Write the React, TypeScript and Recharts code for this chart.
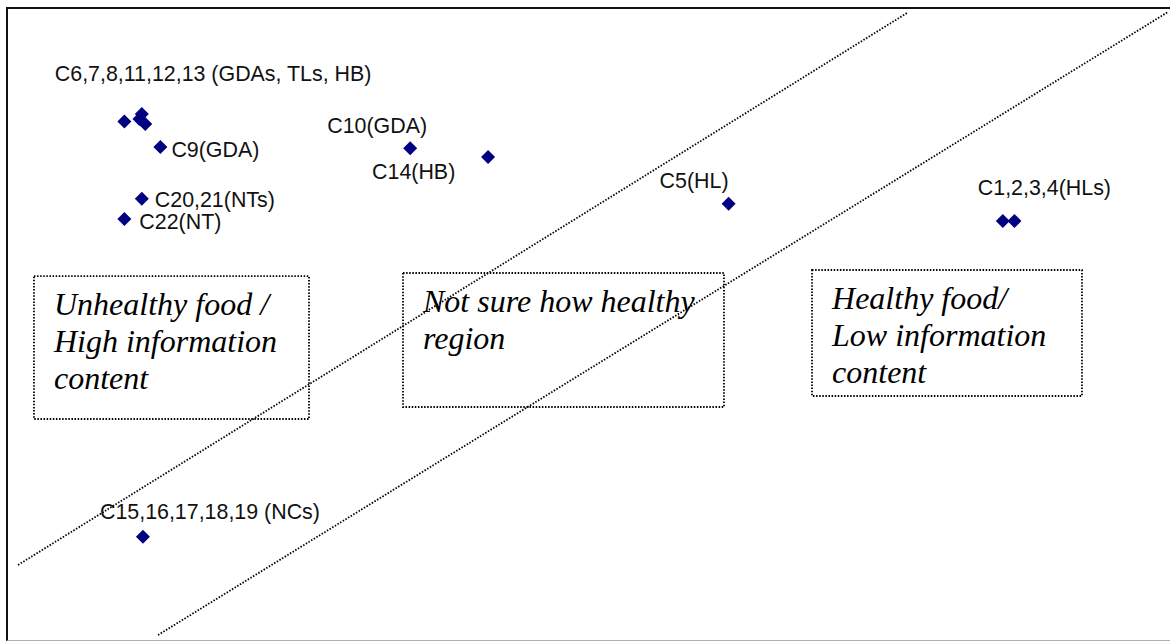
import {
  ScatterChart,
  Scatter,
  XAxis,
  YAxis,
  ReferenceLine,
  ReferenceArea,
} from 'recharts';

// point positions, x = information / health axis, y = the other; 0..100 across the frame
const pointX = [10.1, 11.6, 11.4, 11.9, 13.2, 11.6, 10.1, 34.7, 41.4, 62.1, 85.7, 86.7, 11.7];
const pointY = [81.9, 83.1, 82.3, 81.5, 77.9, 69.7, 66.5, 77.7, 76.3, 68.9, 66.2, 66.2, 16.3];
const pointLabels = [
  '',
  'C6,7,8,11,12,13 (GDAs, TLs, HB)',
  '',
  '',
  'C9(GDA)',
  'C20,21(NTs)',
  'C22(NT)',
  'C10(GDA)',
  'C14(HB)',
  'C5(HL)',
  'C1,2,3,4(HLs)',
  '',
  'C15,16,17,18,19 (NCs)',
];

// dividing lines between the regions
const upperBoundary = [
  { x: 0.95, y: 11.85 },
  { x: 77.45, y: 99.05 },
];
const lowerBoundary = [
  { x: 13.0, y: 0.79 },
  { x: 99.91, y: 99.21 },
];

// region boxes
const regionText = [
  ['Unhealthy food /', 'High information', 'content'],
  ['Not sure how healthy', 'region'],
  ['Healthy food/', 'Low information', 'content'],
];
const regionX = [
  [2.32, 25.99],
  [34.08, 61.7],
  [69.28, 92.51],
];
const regionY = [
  [34.91, 57.5],
  [36.81, 57.98],
  [38.55, 58.45],
];

// where each label sits relative to its marker (px)
const LABEL_OFFSET: Record<string, [number, number]> = {
  'C6,7,8,11,12,13 (GDAs, TLs, HB)': [-87, -33],
  'C9(GDA)': [11, 10],
  'C20,21(NTs)': [13, 8],
  'C22(NT)': [15, 10],
  'C10(GDA)': [-83, -15],
  'C14(HB)': [-116, 22],
  'C5(HL)': [-69, -16],
  'C1,2,3,4(HLs)': [-25, -26],
  'C15,16,17,18,19 (NCs)': [-43, -18],
};

const points = pointX.map((x, i) => ({ x, y: pointY[i], label: pointLabels[i] }));

const NAVY = '#000080';
const DOTS = '1.5 1.6';

function Diamond(props: any) {
  const { cx, cy, payload } = props;
  const r = 7;
  const off = LABEL_OFFSET[payload.label];
  return (
    <g>
      <polygon
        points={`${cx},${cy - r} ${cx + r},${cy} ${cx},${cy + r} ${cx - r},${cy}`}
        fill={NAVY}
      />
      {off && (
        <text
          x={cx + off[0]}
          y={cy + off[1]}
          fontFamily="'Liberation Sans', Arial, sans-serif"
          fontSize={21.4}
          fill="#111"
        >
          {payload.label}
        </text>
      )}
    </g>
  );
}

const boxText = (lines: string[]) => (props: any) => {
  const { x, y } = props.viewBox;
  return (
    <text
      fontFamily="'Liberation Serif', 'Times New Roman', serif"
      fontStyle="italic"
      fontSize={32}
      fill="#000"
    >
      {lines.map((line, i) => (
        <tspan key={i} x={x + 20} y={y + 39 + i * 37}>
          {line}
        </tspan>
      ))}
    </text>
  );
};

export default function App() {
  return (
    <>
      <style>{'body { margin: 0; }'}</style>
      <div style={{ position: 'relative', width: 1170, height: 642 }}>
        {/* outer frame: dark left/top edges, light bottom edge */}
        <div
          style={{
            position: 'absolute',
            boxSizing: 'border-box',
            left: 6,
            top: 7,
            width: 1164,
            height: 634,
            borderLeft: '2px solid #111',
            borderTop: '2px solid #111',
            borderBottom: '1px solid #b0b0b0',
            pointerEvents: 'none',
            zIndex: 2,
          }}
        />
        <ScatterChart width={1170} height={642} margin={{ top: 7, right: 1, bottom: 2, left: 7 }}>
          <XAxis type="number" dataKey="x" domain={[0, 100]} hide />
          <YAxis type="number" dataKey="y" domain={[0, 100]} hide />
          <ReferenceLine segment={upperBoundary} stroke="#000" strokeWidth={1.8} strokeDasharray={DOTS} />
          <ReferenceLine segment={lowerBoundary} stroke="#000" strokeWidth={1.8} strokeDasharray={DOTS} />
          {regionText.map((lines, i) => (
            <ReferenceArea
              key={i}
              x1={regionX[i][0]}
              x2={regionX[i][1]}
              y1={regionY[i][0]}
              y2={regionY[i][1]}
              fill="#fff"
              fillOpacity={1}
              stroke="#000"
              strokeWidth={1.8}
              strokeDasharray={DOTS}
              label={boxText(lines)}
            />
          ))}
          <Scatter data={points} shape={Diamond} isAnimationActive={false} />
        </ScatterChart>
      </div>
    </>
  );
}
